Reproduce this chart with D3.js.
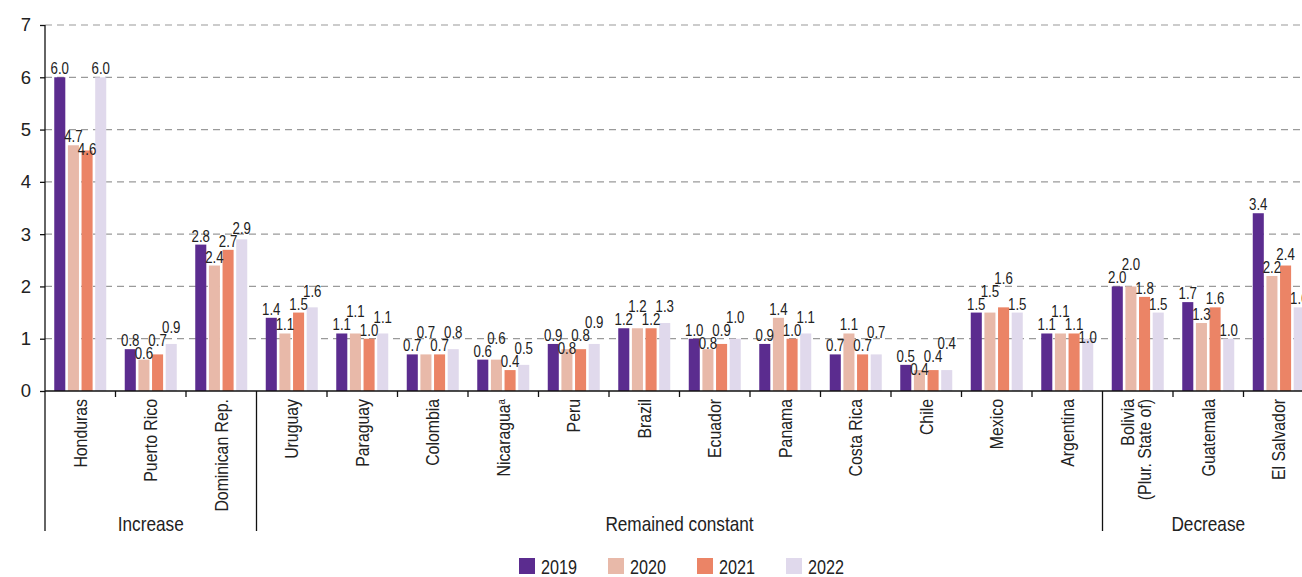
<!DOCTYPE html>
<html>
<head>
<meta charset="utf-8">
<script src="https://d3js.org/d3.v7.min.js"></script>
<style>
  body { margin: 0; background: #fff; }
  svg { font-family: "Liberation Sans", Arial, sans-serif; fill: #222; }
  .vlab { font-size: 17px; }
</style>
</head>
<body>
<script>
// data
var countries = ["Honduras", "Puerto Rico", "Dominican Rep.", "Uruguay", "Paraguay", "Colombia",
  "Nicaragua", "Peru", "Brazil", "Ecuador", "Panama", "Costa Rica", "Chile", "Mexico",
  "Argentina", "Bolivia|(Plur. State of)", "Guatemala", "El Salvador"];
var years = ["2019", "2020", "2021", "2022"];
var v2019 = [6.0, 0.8, 2.8, 1.4, 1.1, 0.7, 0.6, 0.9, 1.2, 1.0, 0.9, 0.7, 0.5, 1.5, 1.1, 2.0, 1.7, 3.4];
var v2020 = [4.7, 0.6, 2.4, 1.1, 1.1, 0.7, 0.6, 0.8, 1.2, 0.8, 1.4, 1.1, 0.4, 1.5, 1.1, 2.0, 1.3, 2.2];
var v2021 = [4.6, 0.7, 2.7, 1.5, 1.0, 0.7, 0.4, 0.8, 1.2, 0.9, 1.0, 0.7, 0.4, 1.6, 1.1, 1.8, 1.6, 2.4];
var v2022 = [6.0, 0.9, 2.9, 1.6, 1.1, 0.8, 0.5, 0.9, 1.3, 1.0, 1.1, 0.7, 0.4, 1.5, 1.0, 1.5, 1.0, 1.6];
var groups = [
  {name: "Increase", first: 0, last: 2},
  {name: "Remained constant", first: 3, last: 14},
  {name: "Decrease", first: 15, last: 17}
];
var yTicks = [0, 1, 2, 3, 4, 5, 6, 7];
var colors = ["#5b2c8f", "#e8b9a9", "#eb8466", "#e0d9ec"];

var series = [v2019, v2020, v2021, v2022];

var W = 1302, H = 577;
var x0 = 45, bandW = 70.5, yZero = 391, yTop = 25, axisBottom = 531;

var svg = d3.select("body").append("svg")
    .attr("width", W)
    .attr("height", H);

var x = d3.scaleBand()
    .domain(countries)
    .range([x0, x0 + bandW * countries.length])
    .paddingInner(0).paddingOuter(0);

var xs = d3.scaleBand()
    .domain(years)
    .range([0, 52])
    .paddingInner(0.19);

var y = d3.scaleLinear()
    .domain([0, 7])
    .range([yZero, yTop]);

// grid lines
svg.selectAll(".grid")
    .data(yTicks.filter(function (d) { return d > 0; }))
    .enter().append("line")
    .attr("x1", x0).attr("x2", W)
    .attr("y1", function (d) { return y(d); })
    .attr("y2", function (d) { return y(d); })
    .style("stroke", "#9a9a9a")
    .style("stroke-width", 1.2)
    .style("stroke-dasharray", "7,5");

// y axis
var yAxis = svg.append("g")
    .attr("transform", "translate(" + x0 + ",0)")
    .call(d3.axisLeft(y).tickValues(yTicks).tickSize(5).tickPadding(9).tickFormat(d3.format("d")));
yAxis.select(".domain").remove();
yAxis.selectAll("line").style("stroke", "#111").style("stroke-width", 1.3);
yAxis.selectAll("text").style("font-size", "18.5px").style("fill", "#222").style("font-family", "inherit");

svg.append("line")
    .attr("x1", x0).attr("x2", x0)
    .attr("y1", yTop).attr("y2", axisBottom)
    .style("stroke", "#111").style("stroke-width", 1.3);

// bars
var offset = (bandW - 52) / 2;
var gCountry = svg.selectAll(".country")
    .data(countries)
    .enter().append("g")
    .attr("class", "country")
    .attr("transform", function (d) { return "translate(" + (x(d) + offset) + ",0)"; });

years.forEach(function (yr, si) {
    gCountry.append("rect")
        .attr("x", xs(yr))
        .attr("width", xs.bandwidth())
        .attr("y", function (d, i) { return y(series[si][i]); })
        .attr("height", function (d, i) { return yZero - y(series[si][i]); })
        .style("fill", colors[si]);
});

// value labels, with a small dodge when neighbours collide
countries.forEach(function (c, i) {
    var labs = years.map(function (yr, si) {
        return {x: x(c) + offset + xs(yr) + xs.bandwidth() / 2, y: y(series[si][i]) - 3, v: series[si][i]};
    });
    for (var k = 1; k < labs.length; k++) {
        var p = labs[k - 1], q = labs[k];
        if (Math.abs(q.y - p.y) < 12) {
            if (q.v < p.v) q.y = p.y + 13;
            else q.y = p.y - 13;
        }
    }
    svg.selectAll(".lab" + i)
        .data(labs)
        .enter().append("text")
        .attr("class", "vlab")
        .attr("text-anchor", "middle")
        .attr("transform", function (d) { return "translate(" + d.x + "," + d.y + ") scale(0.78,1)"; })
        .text(function (d) { return d.v.toFixed(1); });
});

// x axis
svg.append("line")
    .attr("x1", x0).attr("x2", W)
    .attr("y1", yZero).attr("y2", yZero)
    .style("stroke", "#111").style("stroke-width", 1.3);

var groupEdges = groups.map(function (g) { return g.first; });
svg.selectAll(".xtick")
    .data(countries.slice(1))
    .enter().append("line")
    .attr("x1", function (d) { return x(d); })
    .attr("x2", function (d) { return x(d); })
    .attr("y1", yZero)
    .attr("y2", function (d, i) { return groupEdges.indexOf(i + 1) >= 0 ? axisBottom : yZero + 6; })
    .style("stroke", "#111").style("stroke-width", 1.3);

// category labels
var cat = svg.selectAll(".cat")
    .data(countries)
    .enter().append("text")
    .attr("class", "cat")
    .attr("text-anchor", "end")
    .attr("transform", function (d) { return "translate(" + (x(d) + bandW / 2) + ",399) rotate(-90) scale(0.88,1)"; })
    .style("font-size", "18px");

cat.each(function (d) {
    var t = d3.select(this);
    var parts = d.split("|");
    if (parts.length > 1) {
        t.append("tspan").attr("x", 0).attr("dy", "-0.2em").text(parts[0]);
        t.append("tspan").attr("x", 0).attr("dy", "0.95em").text(parts[1]);
    } else {
        t.append("tspan").attr("x", 0).attr("dy", "0.36em").text(d);
        if (d === "Nicaragua") {
            t.append("tspan").attr("dy", "-0.45em").style("font-size", "11px").text("a");
        }
    }
});

// group labels
svg.selectAll(".grp")
    .data(groups)
    .enter().append("text")
    .attr("class", "grp")
    .attr("text-anchor", "middle")
    .attr("transform", function (g) {
        var cx = (x(countries[g.first]) + x(countries[g.last]) + bandW) / 2;
        return "translate(" + cx + ",531) scale(0.82,1)";
    })
    .style("font-size", "21px")
    .text(function (g) { return g.name; });

// legend
var legend = svg.selectAll(".legend")
    .data(years)
    .enter().append("g")
    .attr("class", "legend")
    .attr("transform", function (d, i) { return "translate(" + (519 + i * 89) + ",558)"; });

legend.append("rect")
    .attr("width", 16).attr("height", 16)
    .style("fill", function (d, i) { return colors[i]; });

legend.append("text")
    .attr("transform", "translate(22,16) scale(0.77,1)")
    .style("font-size", "21px")
    .text(function (d) { return d; });
</script>
</body>
</html>
